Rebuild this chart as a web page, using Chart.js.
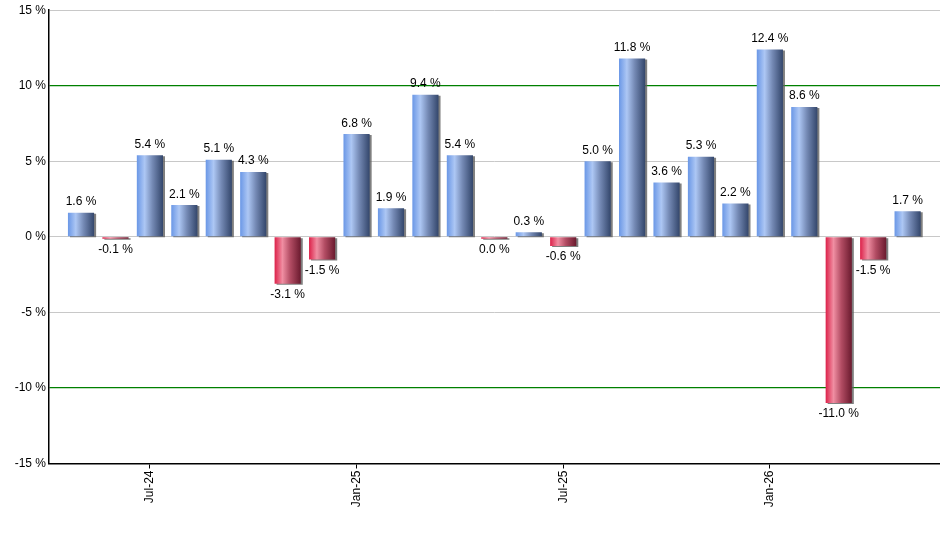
<!DOCTYPE html>
<html>
<head>
<meta charset="utf-8">
<script src="https://cdn.jsdelivr.net/npm/chart.js@4.4.1/dist/chart.umd.min.js"></script>
<style>
  html, body { margin: 0; padding: 0; background: #fff; }
  #wrap { width: 940px; height: 550px; position: relative; }
</style>
</head>
<body>
<div id="wrap"><canvas id="chart"></canvas></div>
<script>
// monthly returns, May-24 .. May-26
const months = [
  'May-24', 'Jun-24', 'Jul-24', 'Aug-24', 'Sep-24', 'Oct-24', 'Nov-24', 'Dec-24',
  'Jan-25', 'Feb-25', 'Mar-25', 'Apr-25', 'May-25', 'Jun-25', 'Jul-25', 'Aug-25',
  'Sep-25', 'Oct-25', 'Nov-25', 'Dec-25', 'Jan-26', 'Feb-26', 'Mar-26', 'Apr-26',
  'May-26',
];
const returns = [
  1.6, -0.1, 5.4, 2.1, 5.1, 4.3, -3.1, -1.5,
  6.8, 1.9, 9.4, 5.4, -0.04, 0.3, -0.6, 5.0,
  11.8, 3.6, 5.3, 2.2, 12.4, 8.6, -11.0, -1.5,
  1.7,
];
const tickMonths = ['Jul-24', 'Jan-25', 'Jul-25', 'Jan-26'];
const yTicks = [-15, -10, -5, 0, 5, 10, 15];
const markLines = [10, -10];

const FONT = '"Liberation Sans", Arial, sans-serif';
const fmt = (v) => (Math.abs(v) < 0.05 ? '0.0' : v.toFixed(1)) + ' %';

/* GRADIENTS */

function barFill(c) {
  const chart = c.chart;
  const v = returns[c.dataIndex];
  if (c.type !== 'data' || !chart.chartArea) return v < 0 ? '#c8284c' : '#5f86cf';
  const xs = chart.scales.x;
  const cx = xs.getPixelForValue(c.dataIndex);
  const half = (xs.getPixelForValue(1) - xs.getPixelForValue(0)) * 0.76 / 2;
  const g = chart.ctx.createLinearGradient(cx - half, 0, cx + half, 0);
  if (v < 0) {
    g.addColorStop(0, '#dc2149');
    g.addColorStop(0.3, '#f08ea2');
    g.addColorStop(0.6, '#b24c63');
    g.addColorStop(1, '#6a1a2e');
  } else {
    g.addColorStop(0, '#6a97e6');
    g.addColorStop(0.3, '#adc7f4');
    g.addColorStop(0.6, '#7489b4');
    g.addColorStop(1, '#33466b');
  }
  return g;
}

/* PLUGINS */

// grey drop shadow on the right/bottom of each bar
const barShadow = {
  id: 'barShadow',
  beforeDatasetDraw(chart) {
    const { ctx } = chart;
    ctx.save();
    ctx.shadowColor = 'rgba(95, 95, 95, 0.8)';
    ctx.shadowOffsetX = 2;
    ctx.shadowOffsetY = 1;
    ctx.shadowBlur = 0;
  },
  afterDatasetDraw(chart) {
    chart.ctx.restore();
  },
};

// value labels above / below bars
const valueLabels = {
  id: 'valueLabels',
  afterDatasetsDraw(chart) {
    const { ctx } = chart;
    const meta = chart.getDatasetMeta(0);
    ctx.save();
    ctx.font = '12px ' + FONT;
    ctx.fillStyle = '#000';
    ctx.textAlign = 'center';
    meta.data.forEach((bar, i) => {
      const v = returns[i];
      if (v >= 0) {
        ctx.textBaseline = 'alphabetic';
        ctx.fillText(fmt(v), bar.x, bar.y - 7.5);
      } else {
        ctx.textBaseline = 'top';
        ctx.fillText(fmt(v), bar.x, bar.y + 5);
      }
    });
    ctx.restore();
  },
};

/* CHART */

const ctx = document.getElementById('chart').getContext('2d');
const tickIdx = tickMonths.map((m) => months.indexOf(m));

new Chart(ctx, {
  type: 'bar',
  data: {
    datasets: [{
      data: returns.map((v, i) => ({ x: i, y: v })),
      backgroundColor: barFill,
      borderWidth: 0,
      barPercentage: 0.76,
      categoryPercentage: 1,
      minBarLength: 2,
    }],
  },
  options: {
    responsive: true,
    maintainAspectRatio: false,
    animation: false,
    layout: { padding: { top: 9.5, right: 0, left: 0, bottom: 0 } },
    plugins: {
      legend: { display: false },
      tooltip: { enabled: false },
    },
    scales: {
      x: {
        type: 'linear',
        offset: false,
        min: -0.93,
        max: 24.94,
        afterBuildTicks(axis) {
          axis.ticks = tickIdx.map((v) => ({ value: v }));
        },
        afterFit(axis) { axis.height = 86.5; },
        grid: {
          offset: false,
          drawOnChartArea: false,
          drawTicks: true,
          tickLength: 5,
          color: '#000',
        },
        border: { color: '#000', width: 1.5 },
        ticks: {
          autoSkip: false,
          minRotation: 90,
          maxRotation: 90,
          padding: 2,
          color: '#000',
          font: { family: FONT, size: 12 },
          callback: (v) => months[v],
        },
      },
      y: {
        min: -15,
        max: 15,
        afterBuildTicks(axis) {
          axis.ticks = yTicks.map((v) => ({ value: v }));
        },
        afterFit(axis) { axis.width = 49; },
        grid: {
          drawTicks: false,
          color: (c) => (markLines.includes(c.tick.value) ? '#008000' : '#c8c8c8'),
          lineWidth: (c) => (markLines.includes(c.tick.value) ? 1.3 : 1),
        },
        border: { color: '#000', width: 1.5 },
        ticks: {
          padding: 3,
          color: '#000',
          font: { family: FONT, size: 12 },
          callback: (v) => v + ' %',
        },
      },
    },
  },
  plugins: [barShadow, valueLabels],
});
</script>
</body>
</html>
